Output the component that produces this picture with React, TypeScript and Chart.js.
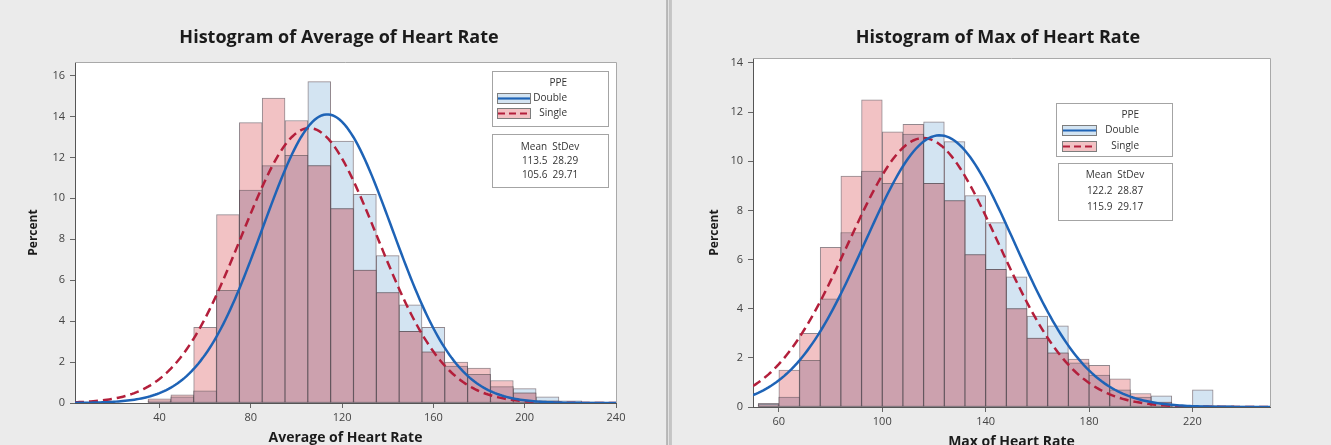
import React, { useEffect, useRef } from "react";
import { Chart, registerables } from "chart.js";
Chart.register(...registerables);

// ---------- Data: Average of Heart Rate ----------
const AVG_BINS = [40, 50, 60, 70, 80, 90, 100, 110, 120, 130, 140, 150, 160, 170, 180, 190, 200, 210, 220, 230];
const AVG_DOUBLE = [0.1, 0.3, 0.6, 5.5, 10.4, 11.6, 12.1, 15.7, 12.8, 10.2, 7.2, 4.8, 3.7, 1.8, 1.4, 0.8, 0.7, 0.3, 0.1, 0.05];
const AVG_SINGLE = [0.2, 0.4, 3.7, 9.2, 13.7, 14.9, 13.8, 11.6, 9.5, 6.5, 5.4, 3.5, 2.5, 2.0, 1.7, 1.1, 0.5, 0.1, 0.05, 0.05];
const AVG_MEAN = [113.5, 105.6];
const AVG_STDEV = [28.29, 29.71];
const AVG_X_TICKS = [40, 80, 120, 160, 200, 240];
const AVG_Y_TICKS = [0, 2, 4, 6, 8, 10, 12, 14, 16];

// ---------- Data: Max of Heart Rate ----------
const MAX_BINS = [56, 64, 72, 80, 88, 96, 104, 112, 120, 128, 136, 144, 152, 160, 168, 176, 184, 192, 200, 208, 216, 224, 232, 240];
const MAX_DOUBLE = [0.15, 0.4, 1.9, 4.4, 7.1, 9.6, 9.1, 11.1, 11.6, 10.8, 8.6, 7.5, 5.3, 3.7, 3.3, 1.8, 1.3, 0.7, 0.4, 0.45, 0.05, 0.7, 0.05, 0.05];
const MAX_SINGLE = [0.1, 1.5, 3.0, 6.5, 9.4, 12.5, 11.2, 11.5, 9.1, 8.4, 6.2, 5.6, 4.0, 2.8, 2.2, 1.95, 1.7, 1.15, 0.55, 0.2, 0.05, 0.05, 0.05, 0.0];
const MAX_MEAN = [122.2, 115.9];
const MAX_STDEV = [28.87, 29.17];
const MAX_X_TICKS = [60, 100, 140, 180, 220];
const MAX_Y_TICKS = [0, 2, 4, 6, 8, 10, 12, 14];

const GROUPS = ["Double", "Single"];

const FONT = "'Open Sans', 'Noto Sans', sans-serif";
const C_DOUBLE_FILL = "#d3e4f2";
const C_SINGLE_FILL = "#f2c2c4";
const C_OVERLAP_FILL = "#cca1ae";
const C_BAR_BORDER = "rgba(100,86,94,0.7)";
const C_DOUBLE_LINE = "#1e63b6";
const C_SINGLE_LINE = "#b31f3b";

// Fitted normal curve (Minitab "fit"), scaled to percent per bin, from the displayed Mean/StDev
function fitCurve(mean: number, sd: number, binWidth: number, xMin: number, xMax: number) {
  const pts: { x: number; y: number }[] = [];
  for (let x = xMin; x <= xMax + 1e-9; x += 1) {
    const z = (x - mean) / sd;
    pts.push({ x, y: (100 * binWidth * Math.exp(-0.5 * z * z)) / (sd * Math.sqrt(2 * Math.PI)) });
  }
  return pts;
}

type Spec = {
  left: number;
  width: number;
  bins: number[];
  dbl: number[];
  sgl: number[];
  mean: number[];
  sd: number[];
  binWidth: number;
  xMin: number;
  xMax: number;
  yMax: number;
  xTicks: number[];
  yTicks: number[];
  padTop: number;
  padRight: number;
  yWidth: number;
  xHeight: number;
  title: string;
  titleX: number;
  xTitle: string;
  xTitleY: number;
  yTitleX: number;
  legend: {
    box1: { x: number; y: number; w: number; h: number };
    box2: { x: number; y: number; w: number; h: number };
    rows1: number[];
    rows2: number[];
    textRight: number;
    swX: number;
    swW: number;
  };
};

function drawLegend(ctx: CanvasRenderingContext2D, s: Spec) {
  const L = s.legend;
  ctx.save();
  ctx.lineWidth = 1;
  ctx.strokeStyle = "#a4a4a4";
  ctx.fillStyle = "#ffffff";
  for (const b of [L.box1, L.box2]) {
    ctx.fillRect(b.x, b.y, b.w, b.h);
    ctx.strokeRect(b.x + 0.5, b.y + 0.5, b.w, b.h);
  }
  ctx.font = `10px ${FONT}`;
  ctx.fillStyle = "#333";
  ctx.textBaseline = "middle";
  ctx.textAlign = "right";
  ctx.fillText("PPE", L.textRight, L.rows1[0]);
  ctx.fillText(GROUPS[0], L.textRight, L.rows1[1]);
  ctx.fillText(GROUPS[1], L.textRight, L.rows1[2]);
  const sh = 10;
  for (let i = 0; i < 2; i++) {
    const cy = L.rows1[i + 1];
    ctx.fillStyle = i === 0 ? C_DOUBLE_FILL : C_SINGLE_FILL;
    ctx.fillRect(L.swX, cy - sh / 2, L.swW, sh);
    ctx.strokeStyle = "#7d7d7d";
    ctx.lineWidth = 1;
    ctx.setLineDash([]);
    ctx.strokeRect(L.swX + 0.5, cy - sh / 2 + 0.5, L.swW, sh);
    ctx.strokeStyle = i === 0 ? C_DOUBLE_LINE : C_SINGLE_LINE;
    ctx.lineWidth = 2.2;
    ctx.setLineDash(i === 0 ? [] : [7, 4]);
    ctx.beginPath();
    ctx.moveTo(L.swX + 1, cy + 0.5);
    ctx.lineTo(L.swX + L.swW, cy + 0.5);
    ctx.stroke();
  }
  ctx.setLineDash([]);
  ctx.fillStyle = "#333";
  ctx.textAlign = "center";
  const cx = L.box2.x + L.box2.w / 2;
  ctx.fillText("Mean  StDev", cx, L.rows2[0]);
  ctx.fillText(`${s.mean[0].toFixed(1)}  ${s.sd[0].toFixed(2)}`, cx, L.rows2[1]);
  ctx.fillText(`${s.mean[1].toFixed(1)}  ${s.sd[1].toFixed(2)}`, cx, L.rows2[2]);
  ctx.restore();
}

function buildConfig(s: Spec): any {
  const overlap = s.bins.map((b, i) => ({ x: b, y: Math.min(s.dbl[i], s.sgl[i]) }));
  const barCommon = {
    type: "bar",
    grouped: false,
    barPercentage: 1,
    categoryPercentage: 1,
    borderWidth: 1,
    borderColor: C_BAR_BORDER,
    borderSkipped: false,
  };
  const plugin = {
    id: "decor" + s.left,
    beforeDraw(chart: any) {
      const { ctx, chartArea: a } = chart;
      ctx.save();
      ctx.fillStyle = "#ffffff";
      ctx.fillRect(a.left, a.top, a.right - a.left, a.bottom - a.top);
      ctx.restore();
    },
    afterDraw(chart: any) {
      const { ctx, chartArea: a } = chart;
      ctx.save();
      ctx.strokeStyle = "#a9a9a9";
      ctx.lineWidth = 1;
      ctx.beginPath();
      ctx.moveTo(a.left, a.top + 0.5);
      ctx.lineTo(a.right + 0.5, a.top + 0.5);
      ctx.lineTo(a.right + 0.5, a.bottom);
      ctx.stroke();
      ctx.fillStyle = "#1b1b1b";
      ctx.textAlign = "center";
      ctx.textBaseline = "middle";
      ctx.font = `bold 18px ${FONT}`;
      ctx.fillText(s.title, s.titleX, 38);
      ctx.font = `bold 14px ${FONT}`;
      ctx.textBaseline = "alphabetic";
      ctx.fillText(s.xTitle, (a.left + a.right) / 2, s.xTitleY);
      ctx.translate(s.yTitleX, (a.top + a.bottom) / 2);
      ctx.rotate(-Math.PI / 2);
      ctx.textBaseline = "middle";
      ctx.font = `bold 12px ${FONT}`;
      ctx.fillText("Percent", 0, 0);
      ctx.restore();
      drawLegend(ctx, s);
    },
  };
  const tickFont = { family: FONT, size: 11 };
  return {
    type: "bar",
    data: {
      datasets: [
        {
          type: "line",
          label: GROUPS[0] + " fit",
          data: fitCurve(s.mean[0], s.sd[0], s.binWidth, s.xMin, s.xMax),
          borderColor: C_DOUBLE_LINE,
          borderWidth: 2.5,
          pointRadius: 0,
          fill: false,
          order: 0,
        },
        {
          type: "line",
          label: GROUPS[1] + " fit",
          data: fitCurve(s.mean[1], s.sd[1], s.binWidth, s.xMin, s.xMax),
          borderColor: C_SINGLE_LINE,
          borderWidth: 2.5,
          borderDash: [9, 5],
          pointRadius: 0,
          fill: false,
          order: 0,
        },
        { ...barCommon, label: "overlap", data: overlap, backgroundColor: C_OVERLAP_FILL, order: 1 },
        { ...barCommon, label: GROUPS[1], data: s.bins.map((b, i) => ({ x: b, y: s.sgl[i] })), backgroundColor: C_SINGLE_FILL, order: 2 },
        { ...barCommon, label: GROUPS[0], data: s.bins.map((b, i) => ({ x: b, y: s.dbl[i] })), backgroundColor: C_DOUBLE_FILL, order: 3 },
      ],
    },
    options: {
      animation: false,
      responsive: false,
      maintainAspectRatio: false,
      devicePixelRatio: 1,
      layout: { padding: { top: s.padTop, right: s.padRight, left: 0, bottom: 0 } },
      plugins: { legend: { display: false }, tooltip: { enabled: false }, title: { display: false } },
      scales: {
        x: {
          type: "linear",
          min: s.xMin,
          max: s.xMax,
          offset: false,
          afterBuildTicks: (sc: any) => {
            sc.ticks = s.xTicks.map((v) => ({ value: v }));
          },
          afterFit: (sc: any) => {
            sc.height = s.xHeight;
          },
          grid: { offset: false, drawOnChartArea: false, drawTicks: true, tickLength: 5, color: "#666" },
          border: { display: true, color: "#555", width: 1 },
          ticks: { font: tickFont, color: "#444", padding: 3, maxRotation: 0, autoSkip: false, callback: (v: any) => String(v) },
        },
        y: {
          type: "linear",
          min: 0,
          max: s.yMax,
          afterBuildTicks: (sc: any) => {
            sc.ticks = s.yTicks.map((v) => ({ value: v }));
          },
          afterFit: (sc: any) => {
            sc.width = s.yWidth;
          },
          grid: { offset: false, drawOnChartArea: false, drawTicks: true, tickLength: 5, color: "#666" },
          border: { display: true, color: "#555", width: 1 },
          ticks: { font: tickFont, color: "#444", padding: 5, autoSkip: false, callback: (v: any) => String(v) },
        },
      },
    },
    plugins: [plugin],
  };
}

const LEFT_SPEC: Spec = {
  left: 0,
  width: 666,
  bins: AVG_BINS,
  dbl: AVG_DOUBLE,
  sgl: AVG_SINGLE,
  mean: AVG_MEAN,
  sd: AVG_STDEV,
  binWidth: 10,
  xMin: 3,
  xMax: 240,
  yMax: 16.66,
  xTicks: AVG_X_TICKS,
  yTicks: AVG_Y_TICKS,
  padTop: 62,
  padRight: 50,
  yWidth: 75,
  xHeight: 42,
  title: "Histogram of Average of Heart Rate",
  titleX: 339,
  xTitle: "Average of Heart Rate",
  xTitleY: 442,
  yTitleX: 34,
  legend: {
    box1: { x: 492, y: 71, w: 116, h: 55 },
    box2: { x: 492, y: 134, w: 116, h: 53 },
    rows1: [83, 98, 113],
    rows2: [147, 161, 175],
    textRight: 567,
    swX: 497,
    swW: 33,
  },
};

const RIGHT_SPEC: Spec = {
  left: 670,
  width: 661,
  bins: MAX_BINS,
  dbl: MAX_DOUBLE,
  sgl: MAX_SINGLE,
  mean: MAX_MEAN,
  sd: MAX_STDEV,
  binWidth: 8,
  xMin: 50,
  xMax: 250,
  yMax: 14.2,
  xTicks: MAX_X_TICKS,
  yTicks: MAX_Y_TICKS,
  padTop: 58,
  padRight: 61,
  yWidth: 83,
  xHeight: 38,
  title: "Histogram of Max of Heart Rate",
  titleX: 328,
  xTitle: "Max of Heart Rate",
  xTitleY: 446,
  yTitleX: 45,
  legend: {
    box1: { x: 386, y: 103, w: 116, h: 53 },
    box2: { x: 388, y: 163, w: 114, h: 57 },
    rows1: [115, 130, 146],
    rows2: [175, 191, 207],
    textRight: 469,
    swX: 392,
    swW: 34,
  },
};

function HistChart({ spec }: { spec: Spec }) {
  const ref = useRef<HTMLCanvasElement>(null);
  useEffect(() => {
    const chart = new Chart(ref.current as HTMLCanvasElement, buildConfig(spec));
    return () => chart.destroy();
  }, [spec]);
  return (
    <canvas
      ref={ref}
      width={spec.width}
      height={445}
      style={{ position: "absolute", left: spec.left, top: 0, width: spec.width, height: 445 }}
    />
  );
}

export default function App() {
  return (
    <div
      style={{
        position: "fixed",
        left: 0,
        top: 0,
        width: 1331,
        height: 445,
        background: "#ebebeb",
        overflow: "hidden",
      }}
    >
      <HistChart spec={LEFT_SPEC} />
      <div
        style={{
          position: "absolute",
          left: 666,
          top: 0,
          width: 6,
          height: 445,
          background: "linear-gradient(to right, #bdbdbd 0px, #b3b3b3 2px, #e2e2e2 2px, #e2e2e2 3px, #c2c2c2 3px, #c8c8c8 6px)",
        }}
      />
      <HistChart spec={RIGHT_SPEC} />
    </div>
  );
}
